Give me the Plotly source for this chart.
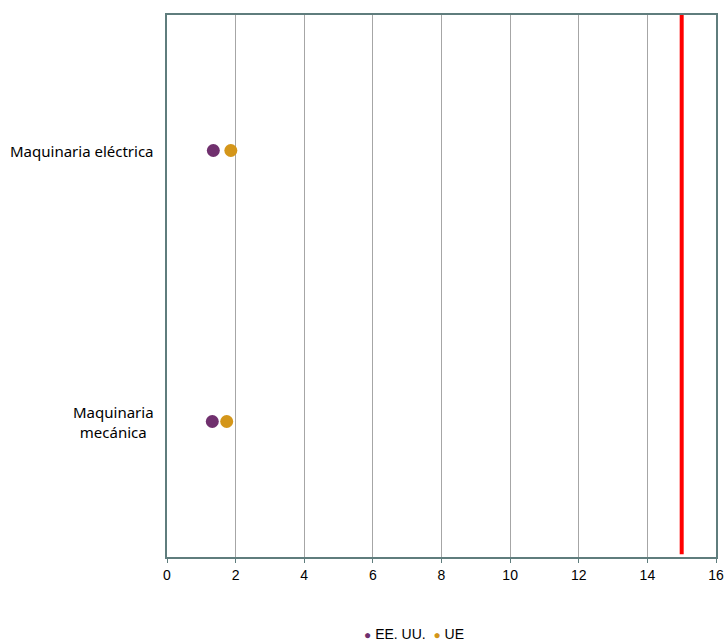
import plotly.graph_objects as go

# Categories, bottom to top
categories = ["Maquinaria<br>mecánica", "Maquinaria eléctrica"]
us_values = [1.32, 1.35]
eu_values = [1.74, 1.86]
threshold = 15
x_ticks = [0, 2, 4, 6, 8, 10, 12, 14, 16]

series_names = ["EE. UU.", "UE"]
series_colors = ["#70306e", "#d4961a"]

ypos = list(range(len(categories)))

fig = go.Figure()

# Reference threshold line
fig.add_trace(go.Scatter(
    x=[threshold, threshold], y=[-0.49, len(categories) - 0.5],
    mode="lines", line=dict(color="#ff0000", width=4),
    showlegend=False, hoverinfo="skip", cliponaxis=False,
))

for name, color, vals in zip(series_names, series_colors, [us_values, eu_values]):
    fig.add_trace(go.Scatter(
        x=vals, y=ypos, mode="markers", name=name,
        marker=dict(color=color, size=13), showlegend=False,
    ))

axis_color = "#5f7d7d"
sans = "Liberation Sans"

fig.update_xaxes(
    range=[0, 16], tickvals=x_ticks, ticktext=[str(v) for v in x_ticks],
    showgrid=True, gridcolor="#a6a6a6", gridwidth=1,
    showline=True, linecolor=axis_color, linewidth=1.5, mirror=True,
    ticks="outside", ticklen=4, tickcolor=axis_color,
    tickfont=dict(family=sans, size=14, color="#000000"),
    zeroline=False, fixedrange=True, automargin=False,
)
fig.update_yaxes(
    range=[-0.5, len(categories) - 0.5], showticklabels=False,
    showgrid=False, zeroline=False, automargin=False,
    showline=True, linecolor=axis_color, linewidth=1.5, mirror=True,
)

# Category labels, centred per line
for yv, label in zip(ypos, categories):
    fig.add_annotation(
        x=0, xref="paper", y=yv, yref="y", text=label, showarrow=False,
        xanchor="right", yanchor="middle", align="center", xshift=-11,
        font=dict(family="Noto Sans", size=15, color="#000000"),
    )

# Compact legend row under the chart
legend_text = "&nbsp;&nbsp;".join(
    f'<span style="color:{c}; font-size:12px">●</span> {n}'
    for n, c in zip(series_names, series_colors)
)
plot_w = 726 - 167 - 10
plot_h = 644 - 15 - 87
fig.add_annotation(
    x=(362 - 167) / plot_w, xref="paper",
    y=-(634 - (644 - 87)) / plot_h, yref="paper",
    text=legend_text, showarrow=False,
    xanchor="left", yanchor="middle",
    font=dict(family=sans, size=14, color="#000000"),
)

fig.update_layout(
    width=726, height=644,
    margin=dict(l=167, r=10, t=15, b=87, autoexpand=False),
    plot_bgcolor="#ffffff", paper_bgcolor="#ffffff",
    showlegend=False,
)

fig.write_html("out.html")
